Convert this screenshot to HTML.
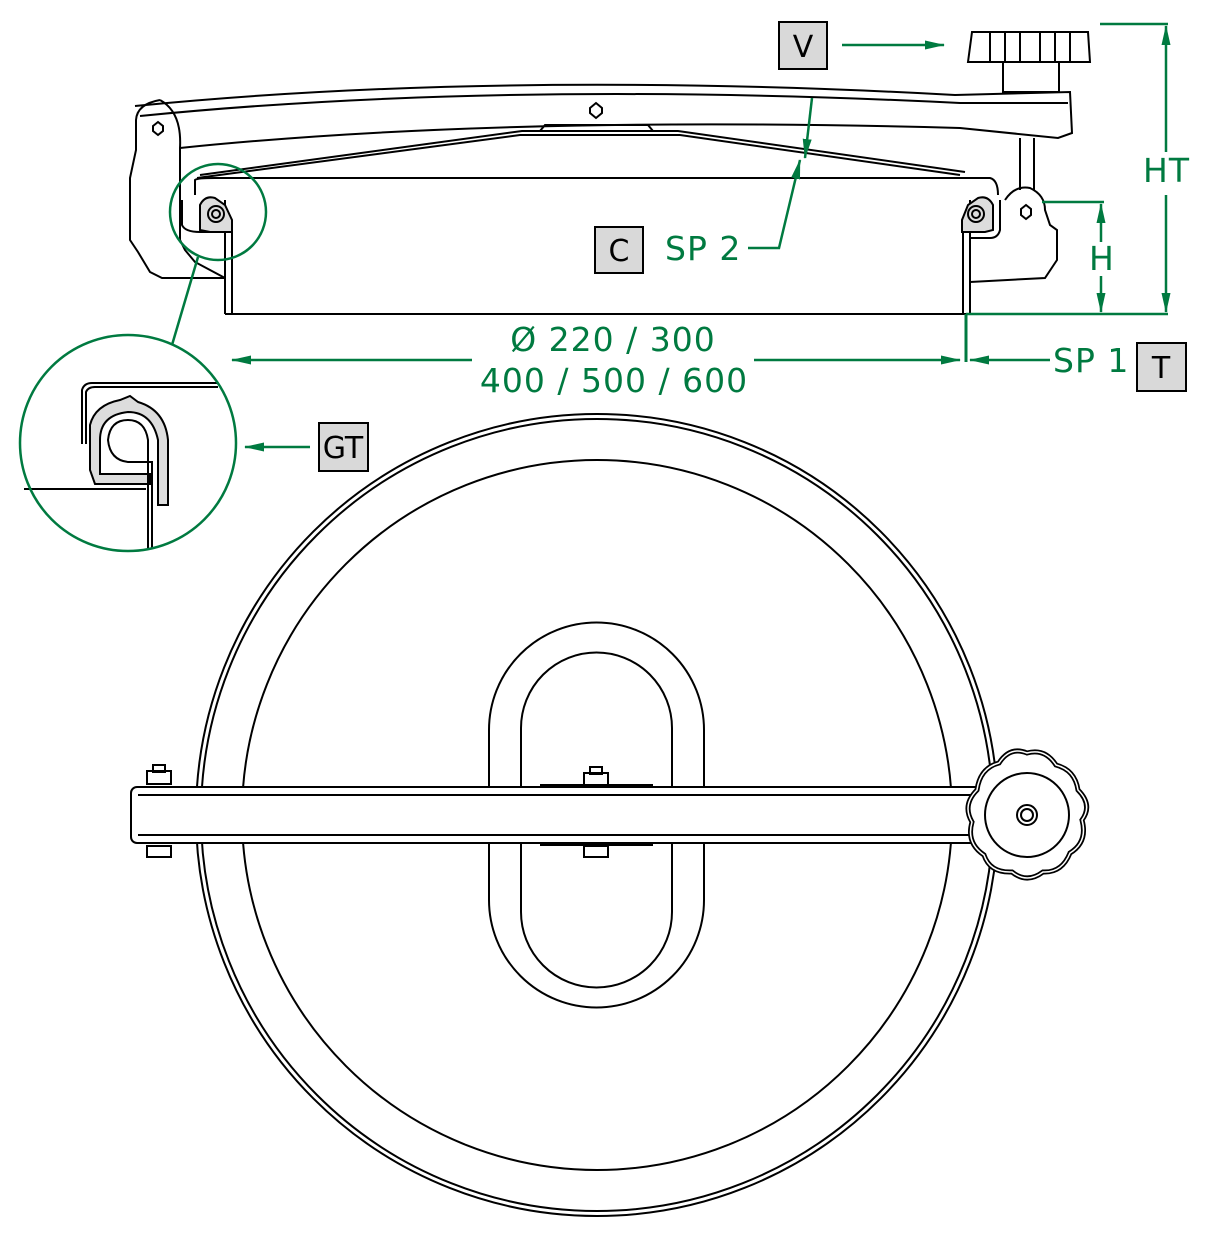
<!DOCTYPE html>
<html><head><meta charset="utf-8"><style>
html,body{margin:0;padding:0;background:#fff}
svg{display:block}
text{font-family:"DejaVu Sans","Liberation Sans",sans-serif}
</style></head><body>
<svg width="1221" height="1240" viewBox="0 0 1221 1240" xmlns="http://www.w3.org/2000/svg">
<defs>
<marker id="ar" markerWidth="20" markerHeight="12" refX="19" refY="6" orient="auto" markerUnits="userSpaceOnUse"><path d="M0,1.5 L20,6 L0,10.5 Z" fill="#007a40"/></marker>
</defs>
<g fill="none" stroke="#000" stroke-width="2">
<circle cx="597" cy="815" r="401"/>
<circle cx="597" cy="815" r="396"/>
<circle cx="597" cy="815" r="355"/>
<path d="M489,730 A107.5,107.5 0 0 1 704,730 L704,900 A107.5,107.5 0 0 1 489,900 Z"/>
<path d="M521,728 A75.5,75.5 0 0 1 672,728 L672,912 A75.5,75.5 0 0 1 521,912 Z"/>
<rect x="131" y="787" width="860" height="56" rx="6" fill="#fff"/>
<line x1="138" y1="795" x2="980" y2="795"/>
<line x1="138" y1="835" x2="980" y2="835"/>
<line x1="540" y1="785" x2="653" y2="785"/><line x1="540" y1="845" x2="653" y2="845"/>
<rect x="147" y="771" width="24" height="13" fill="#fff"/><rect x="153" y="765" width="12" height="7"/>
<rect x="147" y="846" width="24" height="11" fill="#fff"/>
<rect x="584" y="773" width="24" height="12" fill="#fff"/><rect x="590" y="767" width="12" height="7"/>
<rect x="584" y="846" width="24" height="11" fill="#fff"/>
<path d="M1027,753 Q1045,748 1056,765 Q1075,770 1078,790 Q1093,805 1082,820 Q1088,842 1070,853 Q1062,873 1043,872 Q1027,884 1012,872 Q990,873 984,855 Q966,843 972,822 Q962,805 977,790 Q980,768 999,763 Q1010,746 1027,753 Z" fill="#fff" stroke-width="5"/>
<path d="M1027,753 Q1045,748 1056,765 Q1075,770 1078,790 Q1093,805 1082,820 Q1088,842 1070,853 Q1062,873 1043,872 Q1027,884 1012,872 Q990,873 984,855 Q966,843 972,822 Q962,805 977,790 Q980,768 999,763 Q1010,746 1027,753 Z" stroke="#fff" stroke-width="1.5"/>
<circle cx="1027" cy="815" r="42"/>
<circle cx="1027" cy="815" r="10"/><circle cx="1027" cy="815" r="6"/>
<path d="M135,106 Q500,70 955,95 L1070,92 L1072,133 L1058,138 L960,128 Q500,115 180,148"/>
<path d="M140,116 Q500,80 960,103 L1068,103"/>
<path d="M160,100 Q182,112 180,148 L180,240 L185,250 L195,262 L225,278"/>
<path d="M160,100 Q137,104 136,120 L136,150 L130,178 L130,240 L138,252 L150,272 L162,278 L225,278"/>
<path d="M197,178 L520,135 L680,135 L960,175"/>
<path d="M200,175 L522,131 L678,131 L965,172"/>
<path d="M540,131 L545,125 L648,125 L653,131"/>
<path d="M195,195 L195,180 Q197,178 215,178 L990,178 Q998,180 998,195"/>
<path d="M182,200 L182,225 Q185,232 200,232 L222,232"/>
<path d="M1000,200 L1000,230 Q998,238 990,238 L970,238"/>
<line x1="225" y1="200" x2="225" y2="314"/><line x1="232" y1="230" x2="232" y2="314"/>
<line x1="963" y1="230" x2="963" y2="314"/><line x1="970" y1="200" x2="970" y2="314"/>
<line x1="225" y1="314" x2="966" y2="314"/>
<path d="M200,230 L200,205 Q205,195 215,198 L225,205 L232,220 L232,232 L210,232 Z" fill="#ddd"/>
<circle cx="216" cy="214" r="8"/><circle cx="216" cy="214" r="4"/>
<path d="M993,230 L993,205 Q988,195 978,198 L968,205 L962,220 L962,232 L985,232 Z" fill="#ddd"/>
<circle cx="976" cy="214" r="8"/><circle cx="976" cy="214" r="4"/>
<path d="M1005,200 Q1015,185 1030,188 Q1045,195 1045,210 L1050,225 L1057,230 L1057,260 L1045,278 L970,282"/>
<line x1="1020" y1="138" x2="1020" y2="190"/><line x1="1034" y1="138" x2="1034" y2="190"/>
<path d="M972,32 L1088,32 L1090,62 L968,62 Z"/>
<path d="M990,32 v30 M1005,32 v30 M1020,32 v30 M1040,32 v30 M1055,32 v30 M1070,32 v30"/>
<rect x="1003" y="62" width="56" height="30"/>
<path d="M590,108 l6,-5 6,5 v5 l-6,5 -6,-5 z"/>
<path d="M153,126 l5,-4 5,4 v5 l-5,4 -5,-4 z"/>
<path d="M1021,209 l5,-4 5,4 v6 l-5,4 -5,-4 z"/>
<path d="M82,444 L82,390 Q84,383 92,383 L218,383"/>
<path d="M86,444 L86,392 Q88,387 95,387 L218,387"/>
<line x1="24" y1="489" x2="146" y2="489"/>
<path d="M90,470 L90,425 Q95,405 120,400 L130,396 L138,402 Q165,410 168,440 L168,505 L158,505 L158,440 Q152,412 128,412 Q100,415 100,440 L100,474 L150,474 L150,484 L95,484 Z" fill="#ddd"/>
<path d="M148,548 L148,440 Q145,420 128,420 Q110,420 108,440 Q110,460 128,462 L152,462 L152,548"/>
</g>
<g fill="none" stroke="#007a40" stroke-width="2.5">
<circle cx="218" cy="212" r="48"/>
<circle cx="128" cy="443" r="108"/>
<line x1="172" y1="345" x2="198" y2="257"/>
<line x1="472" y1="360" x2="232" y2="360" marker-end="url(#ar)"/>
<line x1="754" y1="360" x2="960" y2="360" marker-end="url(#ar)"/>
<line x1="1050" y1="360" x2="970" y2="360" marker-end="url(#ar)"/>
<line x1="966" y1="314" x2="966" y2="362" stroke-width="3"/>
<line x1="966" y1="314" x2="1168" y2="314"/>
<line x1="842" y1="45" x2="944" y2="45" marker-end="url(#ar)"/>
<line x1="1100" y1="24" x2="1168" y2="24"/>
<line x1="1166" y1="152" x2="1166" y2="26" marker-end="url(#ar)"/>
<line x1="1166" y1="195" x2="1166" y2="312" marker-end="url(#ar)"/>
<line x1="1042" y1="202" x2="1104" y2="202"/>
<line x1="1101" y1="242" x2="1101" y2="204" marker-end="url(#ar)"/>
<line x1="1101" y1="276" x2="1101" y2="312" marker-end="url(#ar)"/>
<polyline points="748,248 779,248 800,160" marker-end="url(#ar)"/>
<line x1="812" y1="98" x2="805" y2="158" marker-end="url(#ar)"/>
<line x1="310" y1="447" x2="245" y2="447" marker-end="url(#ar)"/>
</g>
<g fill="#007a40" font-size="33" letter-spacing="1">
<text x="613" y="351" text-anchor="middle">Ø 220 / 300</text>
<text x="614" y="392" text-anchor="middle">400 / 500 / 600</text>
<text x="665" y="260">SP 2</text>
<text x="1053" y="372">SP 1</text>
<text x="1143" y="182">HT</text>
<text x="1089" y="270">H</text>
</g>
<g fill="#d9d9d9" stroke="#000" stroke-width="2">
<rect x="779" y="22" width="48" height="47"/>
<rect x="595" y="227" width="48" height="46"/>
<rect x="1137" y="343" width="49" height="48"/>
<rect x="319" y="423" width="49" height="48"/>
</g>
<g fill="#000" font-size="30" text-anchor="middle">
<text x="803" y="57">V</text>
<text x="619" y="261">C</text>
<text x="1161" y="378">T</text>
<text x="343" y="458">GT</text>
</g>
</svg>
</body></html>
